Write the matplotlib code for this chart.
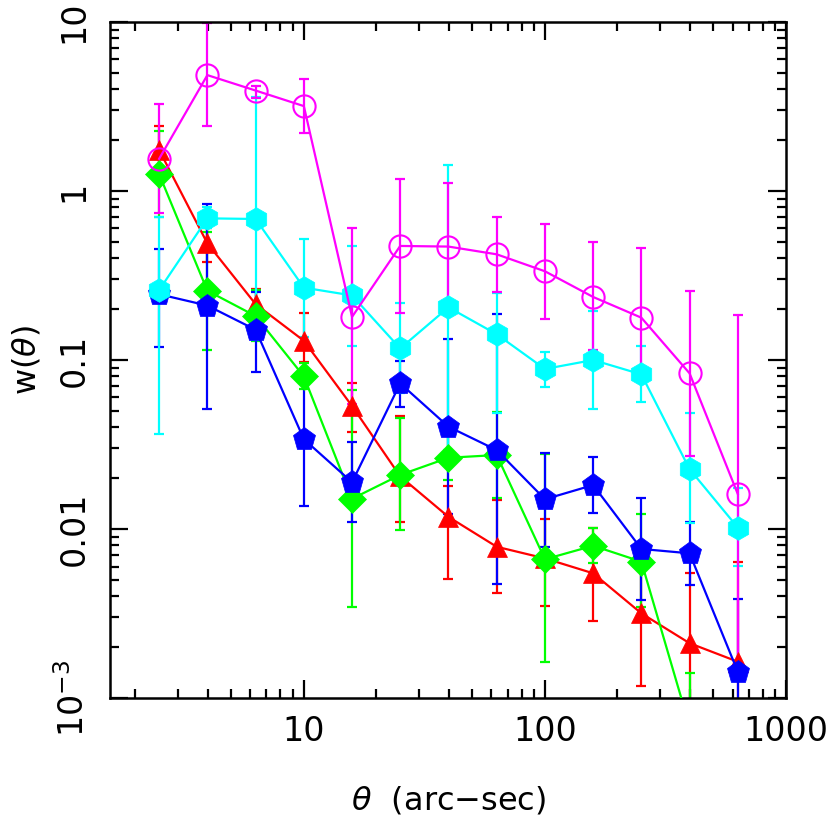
import numpy as np
import matplotlib
matplotlib.use("Agg")
import matplotlib.pyplot as plt
from matplotlib.ticker import FixedLocator, NullFormatter, LogLocator

# ---- data ----
theta = [2.51, 3.98, 6.31, 10.0, 15.85, 25.1, 39.8, 63.1, 100.0, 158.5, 251.2, 398.1, 631.0]

red_w  = [1.75, 0.49, 0.214, 0.130, 0.0534, 0.0205, 0.0118, 0.00785, 0.0067, 0.00547, 0.00317, 0.00211, 0.00164]
red_hi = [2.44, 0.60, 0.263, 0.189, 0.0727, 0.0468, 0.018, 0.0149, 0.0115, 0.0101, 0.0060, 0.00547, 0.00635]
red_lo = [1.25, 0.382, 0.17, 0.097, 0.0377, 0.011, 0.00506, 0.0042, 0.0035, 0.00287, 0.00118, 1e-4, 1e-4]

green_w  = [1.26, 0.257, 0.182, 0.080, 0.0151, 0.0209, 0.0264, 0.0274, 0.00662, 0.00796, 0.00641, 0.00068, np.nan]
green_hi = [2.26, 0.57, 0.26, 0.0955, 0.0664, 0.0452, 0.036, 0.0495, 0.0277, 0.0102, 0.0122, 0.00141, np.nan]
green_lo = [0.705, 0.115, 0.13, 0.067, 0.00347, 0.0098, 0.0195, 0.0152, 0.00163, 0.00627, 0.00347, 1e-4, np.nan]

blue_w  = [0.245, 0.210, 0.151, 0.034, 0.0189, 0.0727, 0.0403, 0.0293, 0.0150, 0.0182, 0.00762, 0.00718, 0.00143]
blue_hi = [0.454, 0.838, 0.251, 0.0834, 0.0325, 0.099, 0.134, 0.187, 0.0281, 0.0268, 0.0152, 0.011, 0.00384]
blue_lo = [0.12, 0.0513, 0.0853, 0.0136, 0.011, 0.0525, 0.0122, 0.00473, 0.00785, 0.0124, 0.0038, 0.00467, 1e-4]

cyan_w  = [0.259, 0.689, 0.683, 0.268, 0.241, 0.117, 0.205, 0.142, 0.0885, 0.100, 0.0822, 0.0226, 0.0102]
cyan_hi = [0.705, 0.80, 3.61, 0.520, 0.473, 0.216, 1.43, 0.248, 0.111, 0.196, 0.121, 0.0484, 0.0174]
cyan_lo = [0.0363, 0.60, 0.132, 0.137, 0.121, 0.0636, 0.0293, 0.0485, 0.0695, 0.0515, 0.0566, 0.0109, 0.00607]

mag_w  = [1.55, 4.85, 3.93, 3.18, 0.180, 0.473, 0.469, 0.422, 0.335, 0.236, 0.178, 0.0834, 0.0161]
mag_hi = [3.27, 9.87, 4.20, 4.58, 0.607, 1.17, 1.11, 0.705, 0.638, 0.497, 0.458, 0.257, 0.184]
mag_lo = [0.738, 2.43, 3.57, 2.21, 0.055, 0.189, 0.196, 0.251, 0.175, 0.114, 0.075, 0.027, 0.00139]

x_ticks = [10, 100, 1000]
x_ticklabels = ["10", "100", "1000"]
y_ticks = [1e-3, 1e-2, 1e-1, 1, 10]
y_ticklabels = [r"$10^{-3}$", "0.01", "0.1", "1", "10"]

series = [
    ("#ff0000", "^", red_w, red_lo, red_hi, True, 15),
    ("#00ff00", "D", green_w, green_lo, green_hi, True, 14.5),
    ("#0000ff", "p", blue_w, blue_lo, blue_hi, True, 17),
    ("#00ffff", "h", cyan_w, cyan_lo, cyan_hi, True, 17),
    ("#ff00ff", "o", mag_w, mag_lo, mag_hi, False, 16),
]

plt.rcParams['font.family'] = ['DejaVu Sans']
plt.rcParams['mathtext.fontset'] = 'dejavusans'

fig = plt.figure(figsize=(8.3, 8.24), dpi=100)
ax = fig.add_axes([0.1325, 0.1529, 0.8145, 0.8204])

x = np.array(theta)
for color, marker, w, lo, hi, filled, ms in series:
    w = np.array(w, dtype=float)
    lo = np.array(lo, dtype=float)
    hi = np.array(hi, dtype=float)
    yerr = np.vstack([w - lo, hi - w])
    ax.errorbar(x, w, yerr=yerr, fmt='none', ecolor=color, elinewidth=1.6,
                capsize=3.5, capthick=1.6, zorder=2)
    ax.plot(x, w, color=color, lw=1.6, marker=marker, ms=ms,
            markerfacecolor=color if filled else 'none',
            markeredgecolor=color, markeredgewidth=1.5 if not filled else 0.5,
            zorder=3)

ax.set_xscale('log')
ax.set_yscale('log')
ax.set_xlim(1.57, 1000)
ax.set_ylim(1e-3, 10)

ax.xaxis.set_major_locator(FixedLocator(x_ticks))
ax.set_xticklabels(x_ticklabels)
ax.xaxis.set_minor_locator(LogLocator(base=10, subs=np.arange(2, 10)))
ax.xaxis.set_minor_formatter(NullFormatter())
ax.yaxis.set_major_locator(FixedLocator(y_ticks))
ax.set_yticklabels(y_ticklabels, rotation=90, va='center')
ax.yaxis.set_minor_locator(LogLocator(base=10, subs=np.arange(2, 10)))
ax.yaxis.set_minor_formatter(NullFormatter())

ax.tick_params(which='both', direction='in', top=True, right=True, width=1.6, colors='black')
ax.tick_params(which='major', length=13, labelsize=24, pad=12)
ax.tick_params(which='minor', length=6.5)
ax.tick_params(axis='y', which='major', pad=14)
for s in ax.spines.values():
    s.set_linewidth(1.8)

fig.text(0.0325, 0.5636, r"w($\theta$)", rotation=90, ha='center', va='center', fontsize=23)
fig.text(0.54, 0.029, r"$\theta$  (arc−sec)", ha='center', va='center', fontsize=23)

fig.savefig("out.png", dpi=100)
